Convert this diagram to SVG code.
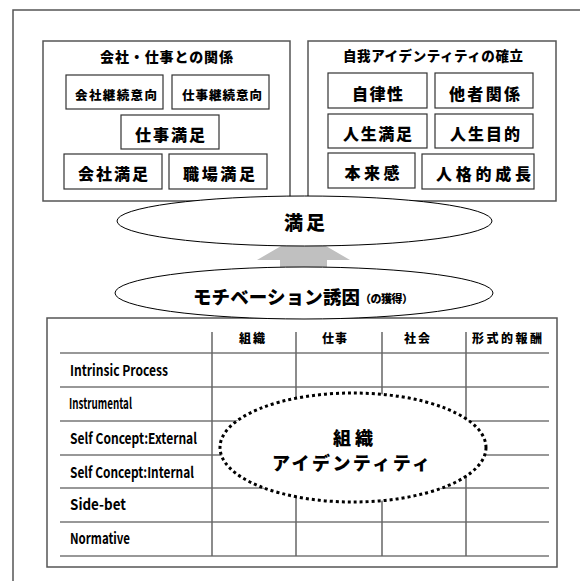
<svg xmlns="http://www.w3.org/2000/svg" width="580" height="581" viewBox="0 0 580 581">
<style>
text{font-family:"Noto Sans CJK JP","Noto Sans",sans-serif;font-weight:900;fill:#000;text-anchor:middle}
.lat{text-anchor:start;font-size:15px;font-weight:bold}
.frame{fill:#fff;stroke:#555;stroke-width:1.5}
.box{fill:#fff;stroke:#333;stroke-width:1.2}
.hl{stroke:#333;stroke-width:1.2}
.vl{stroke:#666;stroke-width:1.5}
.ell{fill:#fff;stroke:#000;stroke-width:1}
.s12{font-size:12.5px}
.s16{font-size:16px}
.hd{font-size:12px}
</style>
<rect x="0" y="0" width="580" height="581" fill="#fff"/>
<rect class="frame" x="13" y="10" width="620" height="620"/>

<g id="company-job">
<rect class="frame" x="43" y="41" width="247" height="160"/>
<text x="166.5" y="62" font-size="14" textLength="133">会社・仕事との関係</text>
<g id="n-kaisha-keizoku"><rect class="box" x="66" y="75" width="97" height="34"/><text class="s12" x="116" y="100" textLength="82">会社継続意向</text></g>
<g id="n-shigoto-keizoku"><rect class="box" x="172" y="75" width="97" height="34"/><text class="s12" x="222" y="100" textLength="80">仕事継続意向</text></g>
<g id="n-shigoto-manzoku"><rect class="box" x="121" y="115" width="98" height="34"/><text class="s16" x="170" y="141" textLength="70">仕事満足</text></g>
<g id="n-kaisha-manzoku"><rect class="box" x="64" y="154" width="98" height="35"/><text class="s16" x="113" y="180" textLength="70">会社満足</text></g>
<g id="n-shokuba-manzoku"><rect class="box" x="169" y="154" width="98" height="35"/><text class="s16" x="219" y="180" textLength="72">職場満足</text></g>
</g>

<g id="ego-identity">
<rect class="frame" x="308" y="41" width="248" height="160"/>
<text x="433" y="61" font-size="13.5" textLength="180">自我アイデンティティの確立</text>
<g id="n-jiritsu"><rect class="box" x="328" y="73" width="99" height="35"/><text class="s16" x="377.5" y="100" textLength="51">自律性</text></g>
<g id="n-tasha"><rect class="box" x="435" y="73" width="98" height="35"/><text class="s16" x="484.5" y="100" textLength="71">他者関係</text></g>
<g id="n-jinsei-manzoku"><rect class="box" x="328" y="114" width="99" height="34"/><text class="s16" x="377.5" y="140" textLength="69">人生満足</text></g>
<g id="n-jinsei-mokuteki"><rect class="box" x="435" y="114" width="98" height="34"/><text class="s16" x="485" y="140" textLength="70">人生目的</text></g>
<g id="n-honrai"><rect class="box" x="328" y="153" width="87" height="35"/><text class="s16" x="372" y="179" textLength="55">本来感</text></g>
<g id="n-jinkaku"><rect class="box" x="422" y="154" width="112" height="35"/><text class="s16" x="483.5" y="180" textLength="95">人格的成長</text></g>
</g>

<g id="table">
<rect class="frame" x="47" y="318" width="510" height="249"/>
<g class="hl">
<line x1="60" y1="353" x2="549" y2="353"/>
<line x1="60" y1="387" x2="549" y2="387"/>
<line x1="60" y1="421" x2="549" y2="421"/>
<line x1="60" y1="455" x2="549" y2="455"/>
<line x1="60" y1="488" x2="549" y2="488"/>
<line x1="60" y1="522" x2="549" y2="522"/>
<line x1="60" y1="556" x2="549" y2="556"/>
</g>
<g class="vl">
<line x1="212" y1="332" x2="212" y2="556"/>
<line x1="296" y1="332" x2="296" y2="556"/>
<line x1="382" y1="332" x2="382" y2="556"/>
<line x1="466" y1="332" x2="466" y2="556"/>
</g>
<text class="hd" x="252" y="343" textLength="26">組織</text>
<text class="hd" x="334.5" y="343" textLength="25">仕事</text>
<text class="hd" x="417" y="343" textLength="26">社会</text>
<text class="hd" x="507" y="343" textLength="70">形式的報酬</text>
<text class="lat" x="70" y="376" textLength="98" lengthAdjust="spacingAndGlyphs">Intrinsic Process</text>
<text class="lat" x="69" y="409" textLength="63" lengthAdjust="spacingAndGlyphs">Instrumental</text>
<text class="lat" x="70" y="444" textLength="127" lengthAdjust="spacingAndGlyphs">Self Concept:External</text>
<text class="lat" x="70" y="478" textLength="124" lengthAdjust="spacingAndGlyphs">Self Concept:Internal</text>
<text class="lat" x="70" y="510" textLength="56" lengthAdjust="spacingAndGlyphs">Side-bet</text>
<text class="lat" x="70" y="544" textLength="60" lengthAdjust="spacingAndGlyphs">Normative</text>
</g>

<g id="connectors">
<polygon points="303.5,233 350,260 327,260 327,278 280,278 280,260 257,260" fill="#c0c0c0"/>
</g>

<g id="n-manzoku">
<ellipse class="ell" cx="304.5" cy="221" rx="187.5" ry="25"/>
<text x="304.5" y="230" font-size="19" textLength="41">満足</text>
</g>

<g id="n-motivation">
<ellipse class="ell" cx="304" cy="293" rx="189" ry="26"/>
<text x="276.5" y="304" font-size="18.5" textLength="167">モチベーション誘因</text>
<text x="386.5" y="303" font-size="11" textLength="53">（の獲得）</text>
</g>

<g id="n-org-identity">
<ellipse cx="353" cy="447.5" rx="133" ry="54.5" fill="#fff" stroke="#000" stroke-width="3" stroke-dasharray="3 3"/>
<text x="353" y="445" font-size="18" textLength="40">組織</text>
<text x="351" y="470" font-size="18" textLength="158">アイデンティティ</text>
</g>
</svg>
